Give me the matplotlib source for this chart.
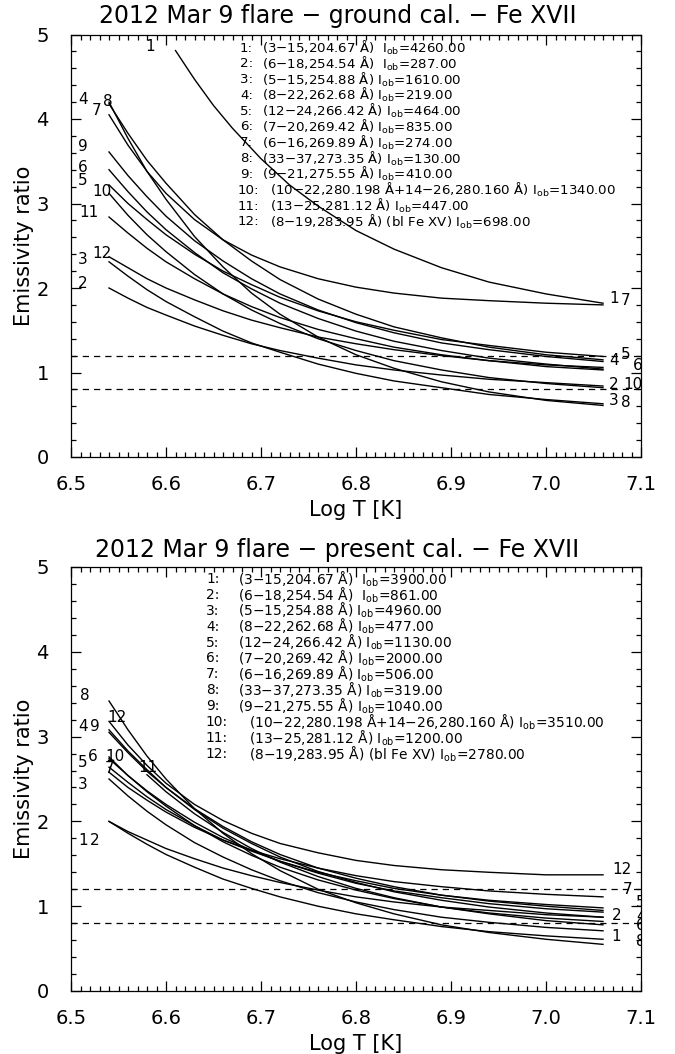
import numpy as np
import matplotlib
matplotlib.use("Agg")
import matplotlib.pyplot as plt
from matplotlib.ticker import MultipleLocator

plt.rcParams['font.family'] = ['DejaVu Sans']
plt.rcParams['mathtext.fontset'] = 'dejavusans'

# ---------------- data ----------------
logT = [6.54, 6.56, 6.58, 6.60, 6.63, 6.66, 6.69, 6.72, 6.76, 6.80, 6.84, 6.89, 6.94, 7.00, 7.06]
logT_top1 = [6.61, 6.63, 6.65, 6.67, 6.70, 6.73, 6.76, 6.80, 6.84, 6.89, 6.94, 7.00, 7.06]
logT_bot11 = [6.58, 6.60, 6.63, 6.66, 6.69, 6.72, 6.76, 6.80, 6.84, 6.89, 6.94, 7.00, 7.06]

# ground calibration
g1 = [4.81, 4.47, 4.16, 3.89, 3.53, 3.22, 2.97, 2.68, 2.46, 2.24, 2.07, 1.93, 1.82]
g2 = [2.00, 1.88, 1.77, 1.68, 1.55, 1.44, 1.34, 1.26, 1.17, 1.09, 1.03, 0.97, 0.92, 0.88, 0.84]
g3 = [2.31, 2.14, 1.98, 1.84, 1.66, 1.49, 1.35, 1.24, 1.10, 0.99, 0.90, 0.82, 0.74, 0.68, 0.63]
g4 = [4.18, 3.83, 3.51, 3.24, 2.87, 2.57, 2.32, 2.10, 1.87, 1.69, 1.54, 1.41, 1.30, 1.21, 1.15]
g5 = [3.22, 3.00, 2.81, 2.63, 2.40, 2.20, 2.04, 1.89, 1.73, 1.60, 1.50, 1.39, 1.32, 1.24, 1.19]
g6 = [3.40, 3.14, 2.90, 2.69, 2.42, 2.18, 1.99, 1.82, 1.64, 1.49, 1.37, 1.26, 1.17, 1.10, 1.04]
g7 = [4.05, 3.69, 3.38, 3.12, 2.81, 2.57, 2.39, 2.25, 2.11, 2.01, 1.94, 1.88, 1.85, 1.82, 1.80]
g8 = [4.20, 3.77, 3.38, 3.05, 2.61, 2.25, 1.94, 1.69, 1.42, 1.21, 1.05, 0.89, 0.77, 0.67, 0.61]
g9 = [3.61, 3.33, 3.08, 2.85, 2.56, 2.32, 2.11, 1.93, 1.74, 1.59, 1.47, 1.35, 1.27, 1.19, 1.13]
g10 = [3.12, 2.86, 2.63, 2.43, 2.16, 1.93, 1.74, 1.58, 1.40, 1.26, 1.14, 1.03, 0.94, 0.87, 0.82]
g11 = [2.84, 2.65, 2.47, 2.31, 2.11, 1.93, 1.78, 1.65, 1.51, 1.40, 1.30, 1.21, 1.14, 1.07, 1.03]
g12 = [2.37, 2.24, 2.11, 2.00, 1.86, 1.73, 1.62, 1.53, 1.42, 1.34, 1.27, 1.20, 1.14, 1.09, 1.06]

# present calibration
p1 = [2.00, 1.86, 1.73, 1.61, 1.46, 1.32, 1.21, 1.11, 1.00, 0.91, 0.84, 0.76, 0.70, 0.65, 0.61]
p2 = [2.00, 1.88, 1.78, 1.68, 1.56, 1.45, 1.36, 1.28, 1.19, 1.11, 1.05, 0.99, 0.95, 0.90, 0.87]
p3 = [2.50, 2.30, 2.12, 1.96, 1.75, 1.58, 1.43, 1.30, 1.16, 1.05, 0.96, 0.87, 0.81, 0.75, 0.71]
p4 = [3.08, 2.83, 2.61, 2.40, 2.14, 1.92, 1.74, 1.58, 1.41, 1.28, 1.17, 1.07, 0.99, 0.92, 0.87]
p5 = [2.64, 2.46, 2.29, 2.14, 1.95, 1.78, 1.65, 1.53, 1.40, 1.30, 1.21, 1.13, 1.07, 1.02, 0.98]
p6 = [2.76, 2.54, 2.35, 2.18, 1.95, 1.76, 1.60, 1.46, 1.31, 1.19, 1.09, 0.99, 0.92, 0.86, 0.82]
p7 = [2.58, 2.40, 2.25, 2.11, 1.93, 1.78, 1.66, 1.56, 1.45, 1.36, 1.29, 1.23, 1.18, 1.14, 1.11]
p8 = [3.42, 3.08, 2.77, 2.50, 2.15, 1.86, 1.62, 1.42, 1.20, 1.04, 0.91, 0.78, 0.69, 0.61, 0.55]
p9 = [3.05, 2.81, 2.59, 2.40, 2.15, 1.94, 1.76, 1.61, 1.45, 1.33, 1.23, 1.13, 1.06, 1.00, 0.95]
p10 = [2.74, 2.54, 2.36, 2.20, 1.99, 1.81, 1.66, 1.53, 1.39, 1.27, 1.18, 1.10, 1.03, 0.97, 0.93]
p11 = [2.55, 2.35, 2.09, 1.87, 1.68, 1.52, 1.35, 1.21, 1.10, 0.99, 0.91, 0.83, 0.78]
p12 = [3.18, 2.90, 2.66, 2.45, 2.20, 2.01, 1.86, 1.74, 1.63, 1.54, 1.48, 1.43, 1.40, 1.37, 1.37]

lines_info = ["(3\u221215,204.67 \u00c5)", "(6\u221218,254.54 \u00c5)", "(5\u221215,254.88 \u00c5)",
              "(8\u221222,262.68 \u00c5)", "(12\u221224,266.42 \u00c5)", "(7\u221220,269.42 \u00c5)",
              "(6\u221216,269.89 \u00c5)", "(33\u221237,273.35 \u00c5)", "(9\u221221,275.55 \u00c5)",
              "(10\u221222,280.198 \u00c5+14\u221226,280.160 \u00c5)", "(13\u221225,281.12 \u00c5)",
              "(8\u221219,283.95 \u00c5) (bl Fe XV)"]
Iob_ground = ["4260.00", "287.00", "1610.00", "219.00", "464.00", "835.00", "274.00",
              "130.00", "410.00", "1340.00", "447.00", "698.00"]
Iob_present = ["3900.00", "861.00", "4960.00", "477.00", "1130.00", "2000.00", "506.00",
               "319.00", "1040.00", "3510.00", "1200.00", "2780.00"]

titles = ["2012 Mar 9 flare \u2212 ground cal. \u2212 Fe XVII",
          "2012 Mar 9 flare \u2212 present cal. \u2212 Fe XVII"]

ground = [(logT_top1, g1), (logT, g2), (logT, g3), (logT, g4), (logT, g5), (logT, g6),
          (logT, g7), (logT, g8), (logT, g9), (logT, g10), (logT, g11), (logT, g12)]
present = [(logT, p1), (logT, p2), (logT, p3), (logT, p4), (logT, p5), (logT, p6),
           (logT, p7), (logT, p8), (logT, p9), (logT, p10), (logT_bot11, p11), (logT, p12)]

# ---------------- layout of curve labels (text, x, y) ----------------
lab_top = [("1", 6.583, 4.86), ("4", 6.5126, 4.23), ("8", 6.539, 4.21), ("7", 6.527, 4.10),
           ("9", 6.5126, 3.67), ("6", 6.5126, 3.43), ("5", 6.5126, 3.27), ("10", 6.533, 3.14),
           ("11", 6.519, 2.89), ("12", 6.533, 2.41), ("3", 6.5126, 2.34), ("2", 6.5126, 2.05),
           ("1", 7.0716, 1.87), ("7", 7.084, 1.85), ("4", 7.0716, 1.14), ("5", 7.084, 1.21),
           ("6", 7.097, 1.08), ("2", 7.0716, 0.86), ("10", 7.092, 0.86), ("3", 7.0716, 0.67),
           ("8", 7.084, 0.65)]
lab_bot = [("8", 6.515, 3.48), ("4", 6.5126, 3.12), ("9", 6.525, 3.12), ("12", 6.548, 3.22),
           ("5", 6.5126, 2.70), ("6", 6.523, 2.77), ("10", 6.546, 2.77), ("3", 6.5126, 2.44),
           ("7", 6.541, 2.62), ("11", 6.581, 2.63), ("1", 6.5126, 1.78), ("2", 6.525, 1.78),
           ("12", 7.08, 1.43), ("7", 7.086, 1.20), ("5", 7.10, 1.04), ("2", 7.074, 0.89),
           ("4", 7.10, 0.88), ("6", 7.10, 0.77), ("1", 7.074, 0.64), ("8", 7.10, 0.58)]

W, H = 675, 1054
fig = plt.figure(figsize=(W / 100, H / 100), dpi=100)

def ax_rect(left, top, right, bottom):
    return [left / W, 1 - bottom / H, (right - left) / W, (bottom - top) / H]

panels = [
    dict(rect=ax_rect(71, 34.5, 641, 457), curves=ground, labels=lab_top, iob=Iob_ground,
         title=titles[0], title_y=16, leg=(240, 262, 238, 270, 48, 15.8), lfs=9.6),
    dict(rect=ax_rect(71, 567, 641, 991), curves=present, labels=lab_bot, iob=Iob_present,
         title=titles[1], title_y=550, leg=(206, 238, 205, 249, 579, 15.9), lfs=9.9),
]

for P in panels:
    ax = fig.add_axes(P['rect'])
    ax.set_xlim(6.5, 7.1)
    ax.set_ylim(0, 5)
    for t, v in P['curves']:
        ax.plot(t, v, color='black', lw=1.0)
    ax.axhline(1.2, color='black', lw=0.9, ls=(0, (5, 4)))
    ax.axhline(0.8, color='black', lw=0.9, ls=(0, (5, 4)))
    for s, x, y in P['labels']:
        ax.text(x, y, s, fontsize=11, ha='center', va='center', clip_on=True)
    ax.xaxis.set_major_locator(MultipleLocator(0.1))
    ax.xaxis.set_minor_locator(MultipleLocator(0.01))
    ax.yaxis.set_major_locator(MultipleLocator(1))
    ax.yaxis.set_minor_locator(MultipleLocator(0.2))
    ax.tick_params(which='both', direction='in', top=True, right=True, width=0.9)
    ax.tick_params(which='major', length=7.5, labelsize=14)
    ax.tick_params(which='minor', length=3.6)
    ax.tick_params(axis='x', which='major', pad=13)
    ax.tick_params(axis='y', which='major', pad=16)
    ax.set_xticks([6.5, 6.6, 6.7, 6.8, 6.9, 7.0, 7.1])
    ax.set_xticklabels(["6.5", "6.6", "6.7", "6.8", "6.9", "7.0", "7.1"])
    ax.set_yticks([0, 1, 2, 3, 4, 5])
    ax.set_xlabel("Log T [K]", fontsize=15, labelpad=4)
    ax.set_ylabel("Emissivity ratio", fontsize=15, labelpad=2)
    for sp in ax.spines.values():
        sp.set_linewidth(0.9)
    fig.text(0.5, 1 - P['title_y'] / H, P['title'], fontsize=17, ha='center', va='center')
    xi, xp, xi2, xp2, y0, dy = P['leg']
    fs = P['lfs']
    for i in range(12):
        y = 1 - (y0 + i * dy) / H
        if i < 9:
            fig.text(xi / W, y, f"{i+1}:", fontsize=fs, va='center')
            sep = "  " if i < 2 else " "
            fig.text(xp / W, y, lines_info[i] + sep + r"I$_{\rm ob}$=" + P['iob'][i], fontsize=fs, va='center')
        else:
            fig.text(xi2 / W, y, f"{i+1}:", fontsize=fs, va='center')
            fig.text(xp2 / W, y, lines_info[i] + " " + r"I$_{\rm ob}$=" + P['iob'][i], fontsize=fs, va='center')

fig.savefig("out.png", dpi=100)
